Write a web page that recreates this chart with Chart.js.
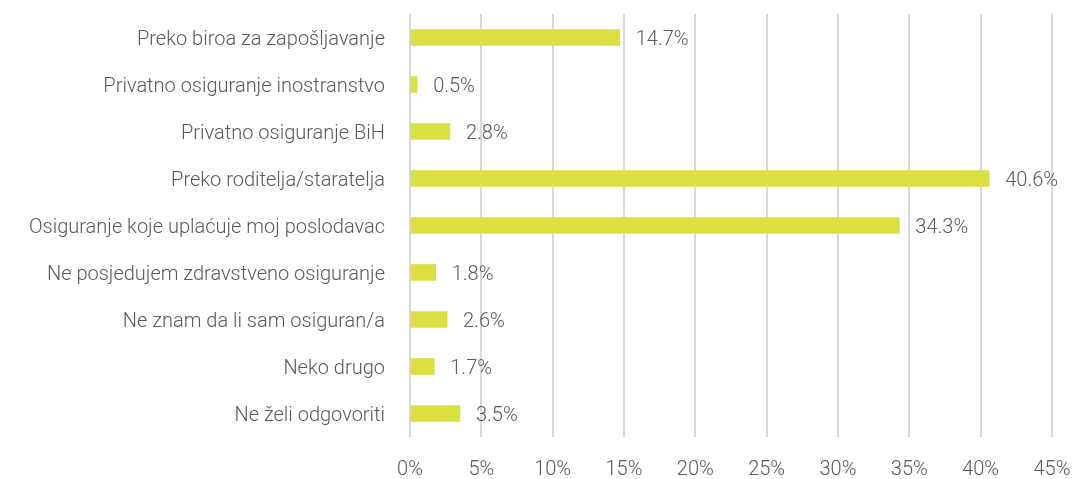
<!DOCTYPE html>
<html>
<head>
<meta charset="utf-8">
<script src="https://cdn.jsdelivr.net/npm/chart.js@4"></script>
<style>
  html, body { margin: 0; padding: 0; background: #fff; overflow: hidden; }
  #wrap { width: 1075px; height: 479px; position: relative; }
</style>
</head>
<body>
<div id="wrap"><canvas id="chart"></canvas></div>
<script>
const categories = [
  "Preko biroa za zapošljavanje",
  "Privatno osiguranje inostranstvo",
  "Privatno osiguranje BiH",
  "Preko roditelja/staratelja",
  "Osiguranje koje uplaćuje moj poslodavac",
  "Ne posjedujem zdravstveno osiguranje",
  "Ne znam da li sam osiguran/a",
  "Neko drugo",
  "Ne želi odgovoriti"
];
const values = [14.7, 0.5, 2.8, 40.6, 34.3, 1.8, 2.6, 1.7, 3.5];
const tickValues = [0, 5, 10, 15, 20, 25, 30, 35, 40, 45];

const FONT = "Roboto, 'DejaVu Sans Condensed', sans-serif";
const TEXT = "#595959";

// value labels at the end of each bar
const valueLabels = {
  id: "valueLabels",
  afterDatasetsDraw(chart) {
    const ctx = chart.ctx;
    const meta = chart.getDatasetMeta(0);
    ctx.save();
    ctx.font = "300 20px " + FONT;
    ctx.fillStyle = TEXT;
    ctx.textAlign = "left";
    ctx.textBaseline = "middle";
    meta.data.forEach((bar, i) => {
      ctx.fillText(values[i].toFixed(1) + "%", bar.x + 16, bar.y + 2);
    });
    ctx.restore();
  }
};

new Chart(document.getElementById("chart"), {
  type: "bar",
  data: {
    labels: categories,
    datasets: [{
      data: values,
      backgroundColor: "#DAE042",
      barThickness: 16
    }]
  },
  options: {
    indexAxis: "y",
    responsive: true,
    maintainAspectRatio: false,
    animation: false,
    layout: { padding: { top: 14, right: 23, left: 0, bottom: 0 } },
    plugins: { legend: { display: false }, tooltip: { enabled: false } },
    scales: {
      x: {
        min: 0,
        max: 45,
        afterBuildTicks(scale) {
          scale.ticks = tickValues.map(v => ({ value: v }));
        },
        afterFit(scale) {
          scale.height = 42;
          scale.paddingLeft = 0;
          scale.paddingRight = 0;
        },
        grid: { color: "#D9D9D9", lineWidth: 2, drawTicks: false },
        border: { display: false },
        ticks: {
          padding: 21,
          color: TEXT,
          font: { family: FONT, size: 20, weight: "300" },
          callback: v => v + "%"
        }
      },
      y: {
        afterFit(scale) {
          scale.width = 410;
          scale.paddingTop = 0;
          scale.paddingBottom = 0;
        },
        grid: { display: false, drawTicks: false },
        border: { display: false },
        ticks: {
          padding: 25,
          labelOffset: 2,
          color: TEXT,
          font: { family: FONT, size: 20, weight: "300" }
        }
      }
    }
  },
  plugins: [valueLabels]
});
</script>
</body>
</html>
